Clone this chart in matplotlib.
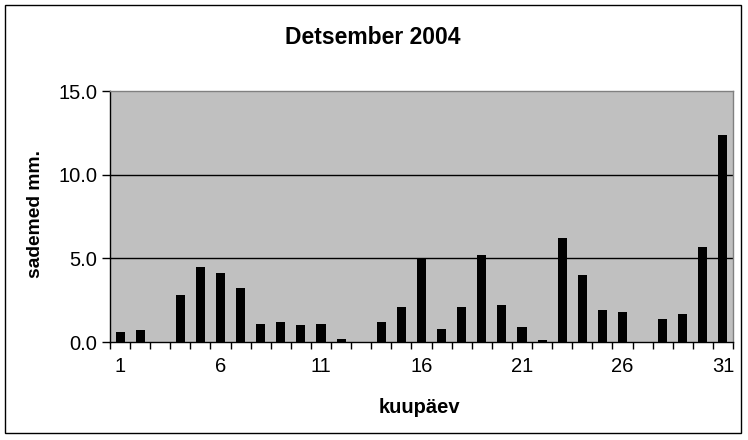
import matplotlib.pyplot as plt
from matplotlib.patches import Rectangle
import numpy as np

# December 2004 daily precipitation (mm)
days = list(range(1, 32))
precip = [0.6, 0.7, 0.0, 2.8, 4.5, 4.1, 3.2, 1.1, 1.2, 1.0,
          1.1, 0.2, 0.0, 1.2, 2.1, 5.0, 0.8, 2.1, 5.2, 2.2,
          0.9, 0.1, 6.2, 4.0, 1.9, 1.8, 0.0, 1.4, 1.7, 5.7, 12.4]
y_ticks = [0.0, 5.0, 10.0, 15.0]
x_labels = [1, 6, 11, 16, 21, 26, 31]

plt.rcParams['font.family'] = ['Liberation Sans', 'DejaVu Sans']

W, H = 748, 440
fig = plt.figure(figsize=(W / 100, H / 100), dpi=100)
ax = fig.add_axes([110 / W, 1 - 342 / H, (733 - 110) / W, (342 - 91) / H])

ax.set_facecolor('#c0c0c0')
ax.bar(days, precip, width=0.45, color='black', zorder=3)

ax.set_xlim(0.5, 31.5)
ax.set_ylim(0, 15)

# horizontal gridlines
for v in y_ticks[1:-1]:
    ax.axhline(v, color='black', linewidth=1, zorder=2)

ax.set_yticks(y_ticks)
ax.set_yticklabels([f'{v:.1f}' for v in y_ticks])
ax.tick_params(axis='y', length=6, width=1, pad=3, labelsize=14.5, direction='out')

# x ticks at category boundaries, labels at centres
ax.set_xticks(np.arange(0.5, 32, 1))
ax.set_xticklabels([])
ax.set_xticks(x_labels, minor=True)
ax.set_xticklabels([str(d) for d in x_labels], minor=True)
ax.tick_params(axis='x', which='major', length=5, width=1, direction='out')
ax.tick_params(axis='x', which='minor', length=0, pad=11, labelsize=14.5)

for side in ['top', 'right']:
    ax.spines[side].set_color('#808080')
    ax.spines[side].set_linewidth(1)
for side in ['left', 'bottom']:
    ax.spines[side].set_color('black')
    ax.spines[side].set_linewidth(1)

fig.text(373 / W, 1 - 37 / H, 'Detsember 2004', ha='center', va='center',
         fontsize=16.5, fontweight='bold')
fig.text(419 / W, 1 - 407 / H, 'kuupäev', ha='center', va='center',
         fontsize=14.5, fontweight='bold')
fig.text(36 / W, 1 - 214 / H, 'sademed mm.', ha='center', va='center',
         rotation=90, fontsize=13.9, fontweight='bold')

# outer chart border
fig.patches.append(Rectangle((5 / W, 1 - 433 / H), 736 / W, 428 / H,
                             transform=fig.transFigure, fill=False,
                             edgecolor='black', linewidth=1))

fig.savefig('out.png', dpi=100)
